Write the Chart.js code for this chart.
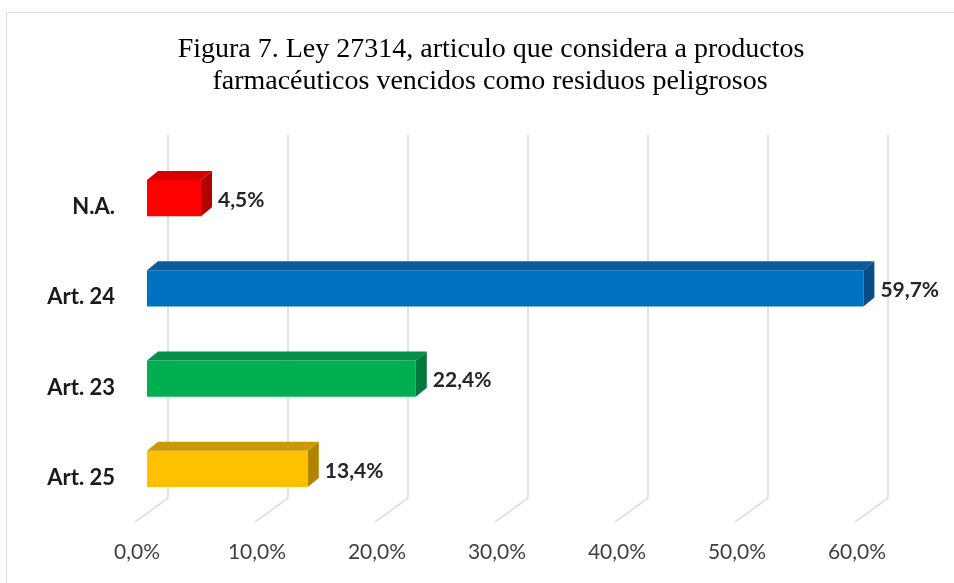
<!DOCTYPE html>
<html lang="es">
  <head>
    <meta charset="UTF-8" />
    <title>Figura 7</title>
    <script src="https://cdn.jsdelivr.net/npm/chart.js@4.4.0/dist/chart.umd.min.js"></script>
    <style>
      body { margin: 0; background: #fff; }
      #box { width: 954px; height: 583px; position: relative; }
    </style>
  </head>
  <body>
    <div id="box"><canvas id="chart"></canvas></div>
    <script>
      // datos
      const categories = ["N.A.", "Art. 24", "Art. 23", "Art. 25"];
      const values = [4.5, 59.7, 22.4, 13.4];
      const tickLabels = ["0,0%", "10,0%", "20,0%", "30,0%", "40,0%", "50,0%", "60,0%"];
      const titleLines = [
        "Figura 7. Ley 27314, articulo que considera a productos",
        "farmacéuticos vencidos como residuos peligrosos"
      ];

      // colores: frente, techo, lado
      const frontColors = ["#ff0000", "#0070c0", "#00b050", "#ffc000"];
      const topColors = ["#d60000", "#0b5c9e", "#00924a", "#cc9a00"];
      const sideColors = ["#b30000", "#084d86", "#007a3c", "#b08500"];

      const DX = 11, DY = 9; // profundidad 3D

      const fake3d = {
        id: "fake3d",
        beforeDatasetsDraw(chart) {
          const ctx = chart.ctx;
          const area = chart.chartArea;
          const xs = chart.scales.x;

          // marco
          ctx.save();
          ctx.strokeStyle = "#d9d9d9";
          ctx.lineWidth = 1;
          ctx.beginPath();
          ctx.moveTo(6.5, 583);
          ctx.lineTo(6.5, 12.5);
          ctx.lineTo(954, 12.5);
          ctx.stroke();

          // titulo
          ctx.fillStyle = "#000";
          ctx.font = "28px 'Liberation Serif'";
          ctx.textAlign = "center";
          ctx.textBaseline = "middle";
          ctx.fillText(titleLines[0], 491, 50);
          ctx.fillText(titleLines[1], 490, 82);

          // lineas de cuadricula (pared del fondo + piso)
          ctx.strokeStyle = "#d9d9d9";
          ctx.lineWidth = 1.5;
          xs.ticks.forEach((t) => {
            const px = xs.getPixelForValue(t.value);
            ctx.beginPath();
            ctx.moveTo(px + 21, area.top - 18);
            ctx.lineTo(px + 21, area.bottom - 16);
            ctx.lineTo(px - 12, area.bottom + 8);
            ctx.stroke();
          });
          ctx.restore();
        },
        afterDatasetsDraw(chart) {
          const ctx = chart.ctx;
          const meta = chart.getDatasetMeta(0);
          ctx.save();
          meta.data.forEach((bar, i) => {
            const p = bar.getProps(["x", "y", "base", "height"], true);
            const x0 = Math.min(p.base, p.x);
            const x1 = Math.max(p.base, p.x);
            const yt = p.y - p.height / 2;
            const yb = p.y + p.height / 2;

            // techo
            ctx.fillStyle = topColors[i];
            ctx.beginPath();
            ctx.moveTo(x0, yt);
            ctx.lineTo(x0 + DX, yt - DY);
            ctx.lineTo(x1 + DX, yt - DY);
            ctx.lineTo(x1, yt);
            ctx.closePath();
            ctx.fill();

            // lado
            ctx.fillStyle = sideColors[i];
            ctx.beginPath();
            ctx.moveTo(x1, yt);
            ctx.lineTo(x1 + DX, yt - DY);
            ctx.lineTo(x1 + DX, yb - DY);
            ctx.lineTo(x1, yb);
            ctx.closePath();
            ctx.fill();

            // etiqueta de valor
            ctx.fillStyle = "#262626";
            ctx.font = "bold 21px Lato";
            ctx.textAlign = "left";
            ctx.textBaseline = "middle";
            ctx.fillText(values[i].toFixed(1).replace(".", ",") + "%", x1 + DX + 6, p.y + 2);
          });
          ctx.restore();
        }
      };

      new Chart(document.getElementById("chart"), {
        type: "bar",
        data: {
          labels: categories,
          datasets: [
            {
              data: values,
              backgroundColor: frontColors,
              borderWidth: 0,
              categoryPercentage: 1,
              barPercentage: 0.4
            }
          ]
        },
        options: {
          indexAxis: "y",
          responsive: true,
          maintainAspectRatio: false,
          animation: false,
          events: [],
          layout: { padding: { top: 153, right: 87, left: 0, bottom: 0 } },
          plugins: {
            legend: { display: false },
            title: { display: false },
            tooltip: { enabled: false }
          },
          scales: {
            x: {
              min: 0,
              max: 60,
              ticks: {
                stepSize: 10,
                padding: 26,
                labelOffset: -10,
                color: "#404040",
                font: { family: "Lato", size: 21 },
                callback: (v, i) => tickLabels[i]
              },
              grid: { display: false, drawTicks: false },
              border: { display: false },
              afterFit: (s) => { s.height = 69; }
            },
            y: {
              ticks: {
                padding: 32,
                labelOffset: 9,
                color: "#1a1a1a",
                font: { family: "Lato", size: 22, weight: "bold" }
              },
              grid: { display: false, drawTicks: false },
              border: { display: false },
              afterFit: (s) => { s.width = 147; }
            }
          }
        },
        plugins: [fake3d]
      });
    </script>
  </body>
</html>
